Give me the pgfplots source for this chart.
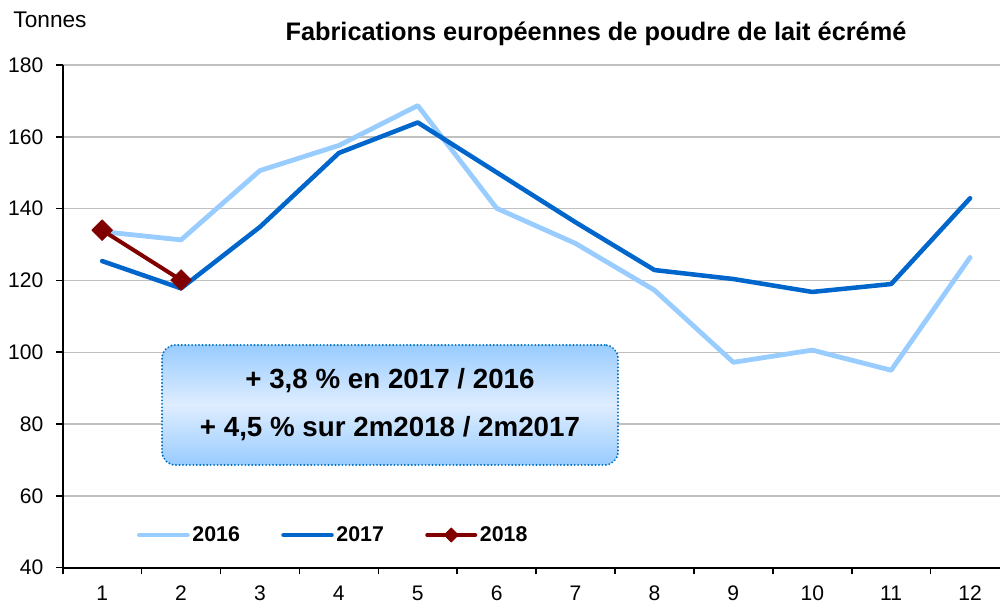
\documentclass[border=0pt]{standalone}
\usepackage{pgfplots}
\pgfplotsset{compat=1.18}
\usepackage{fontspec}
\setmainfont{Liberation Sans}
\usetikzlibrary{shadings}
\definecolor{c16}{HTML}{99CCFF}
\definecolor{c17}{HTML}{0066CC}
\definecolor{c18}{HTML}{800000}
\definecolor{boxline}{HTML}{0070C0}
\definecolor{boxmid}{HTML}{DEEDFF}
\definecolor{gridc}{HTML}{C0C0C0}
\begin{document}
\begin{tikzpicture}[x=0.75pt,y=0.75pt]
\useasboundingbox (0,0) rectangle (1000,605);
\begin{axis}[
  at={(47.025pt,27.975pt)}, anchor=south west, scale only axis,
  width=703pt, height=377pt,
  xmin=0.5, xmax=12.38, ymin=40, ymax=180,
  axis lines=left, axis line style={-, line width=1.5pt, black},
  ytick={40,60,...,180}, ymajorgrids,
  grid style={color=gridc, line width=1.1pt},
  xtick={0.5,1.5,...,11.5}, xticklabels={},
  extra x ticks={1,2,...,12},
  extra x tick style={major tick length=0pt},
  tick align=outside, major tick length=5pt,
  tick style={black, line width=1.2pt},
  ticklabel style={font=\fontsize{15.8}{18}\selectfont},
  yticklabel style={xshift=-6pt},
  xticklabel style={yshift=-10pt},
  /pgf/number format/assume math mode=true,
  clip=false,
  legend columns=3,
  legend style={draw=none, fill=none, at={(0.079,0.065)}, anchor=west,
    font=\bfseries\fontsize{16}{18}\selectfont, inner sep=0pt,
    /tikz/every even column/.append style={column sep=29pt}},
  legend image code/.code={\draw[mark repeat=2,mark phase=2,#1,mark size=3.8pt] plot coordinates {(0pt,0pt) (18pt,0pt) (36pt,0pt)};},
]
\addplot[c16, line width=3.6pt, line join=round, line cap=round, mark=none] coordinates {
(1,133.6) (2,131.3) (3,150.6) (4,157.6) (5,168.7) (6,140.1) (7,130.3) (8,117.3) (9,97.2) (10,100.6) (11,95.0) (12,126.4)};
\addlegendentry{2016}
\addplot[c17, line width=3.4pt, line join=round, line cap=round, mark=none] coordinates {
(1,125.4) (2,117.8) (3,134.9) (4,155.5) (5,164.0) (6,150.1) (7,136.2) (8,122.9) (9,120.4) (10,116.8) (11,119.0) (12,142.9)};
\addlegendentry{2017}
\addplot[c18, line width=3pt, line join=round, line cap=round, mark=square*, mark size=5.5pt, mark options={rotate=45, solid, fill=c18, line width=0.5pt}] coordinates {
(1,134.0) (2,120.1)};
\addlegendentry{2018}
\end{axis}
\node[font=\bfseries\fontsize{19}{22}\selectfont] at (596,571) {Fabrications européennes de poudre de lait écrémé};
\node[font=\fontsize{17}{20}\selectfont] at (50,585) {Tonnes};
\node[draw=boxline, line width=1.6pt, dash pattern=on 0pt off 2.6pt, line cap=round,
  rounded corners=10pt, top color=c16, bottom color=c16, middle color=boxmid,
  minimum width=342pt, minimum height=90pt, align=center,
  font=\bfseries\fontsize{20.8}{36}\selectfont] at (390,200)
  {+ 3,8 \% en 2017 / 2016\\+ 4,5 \% sur 2m2018 / 2m2017};
\end{tikzpicture}
\end{document}
